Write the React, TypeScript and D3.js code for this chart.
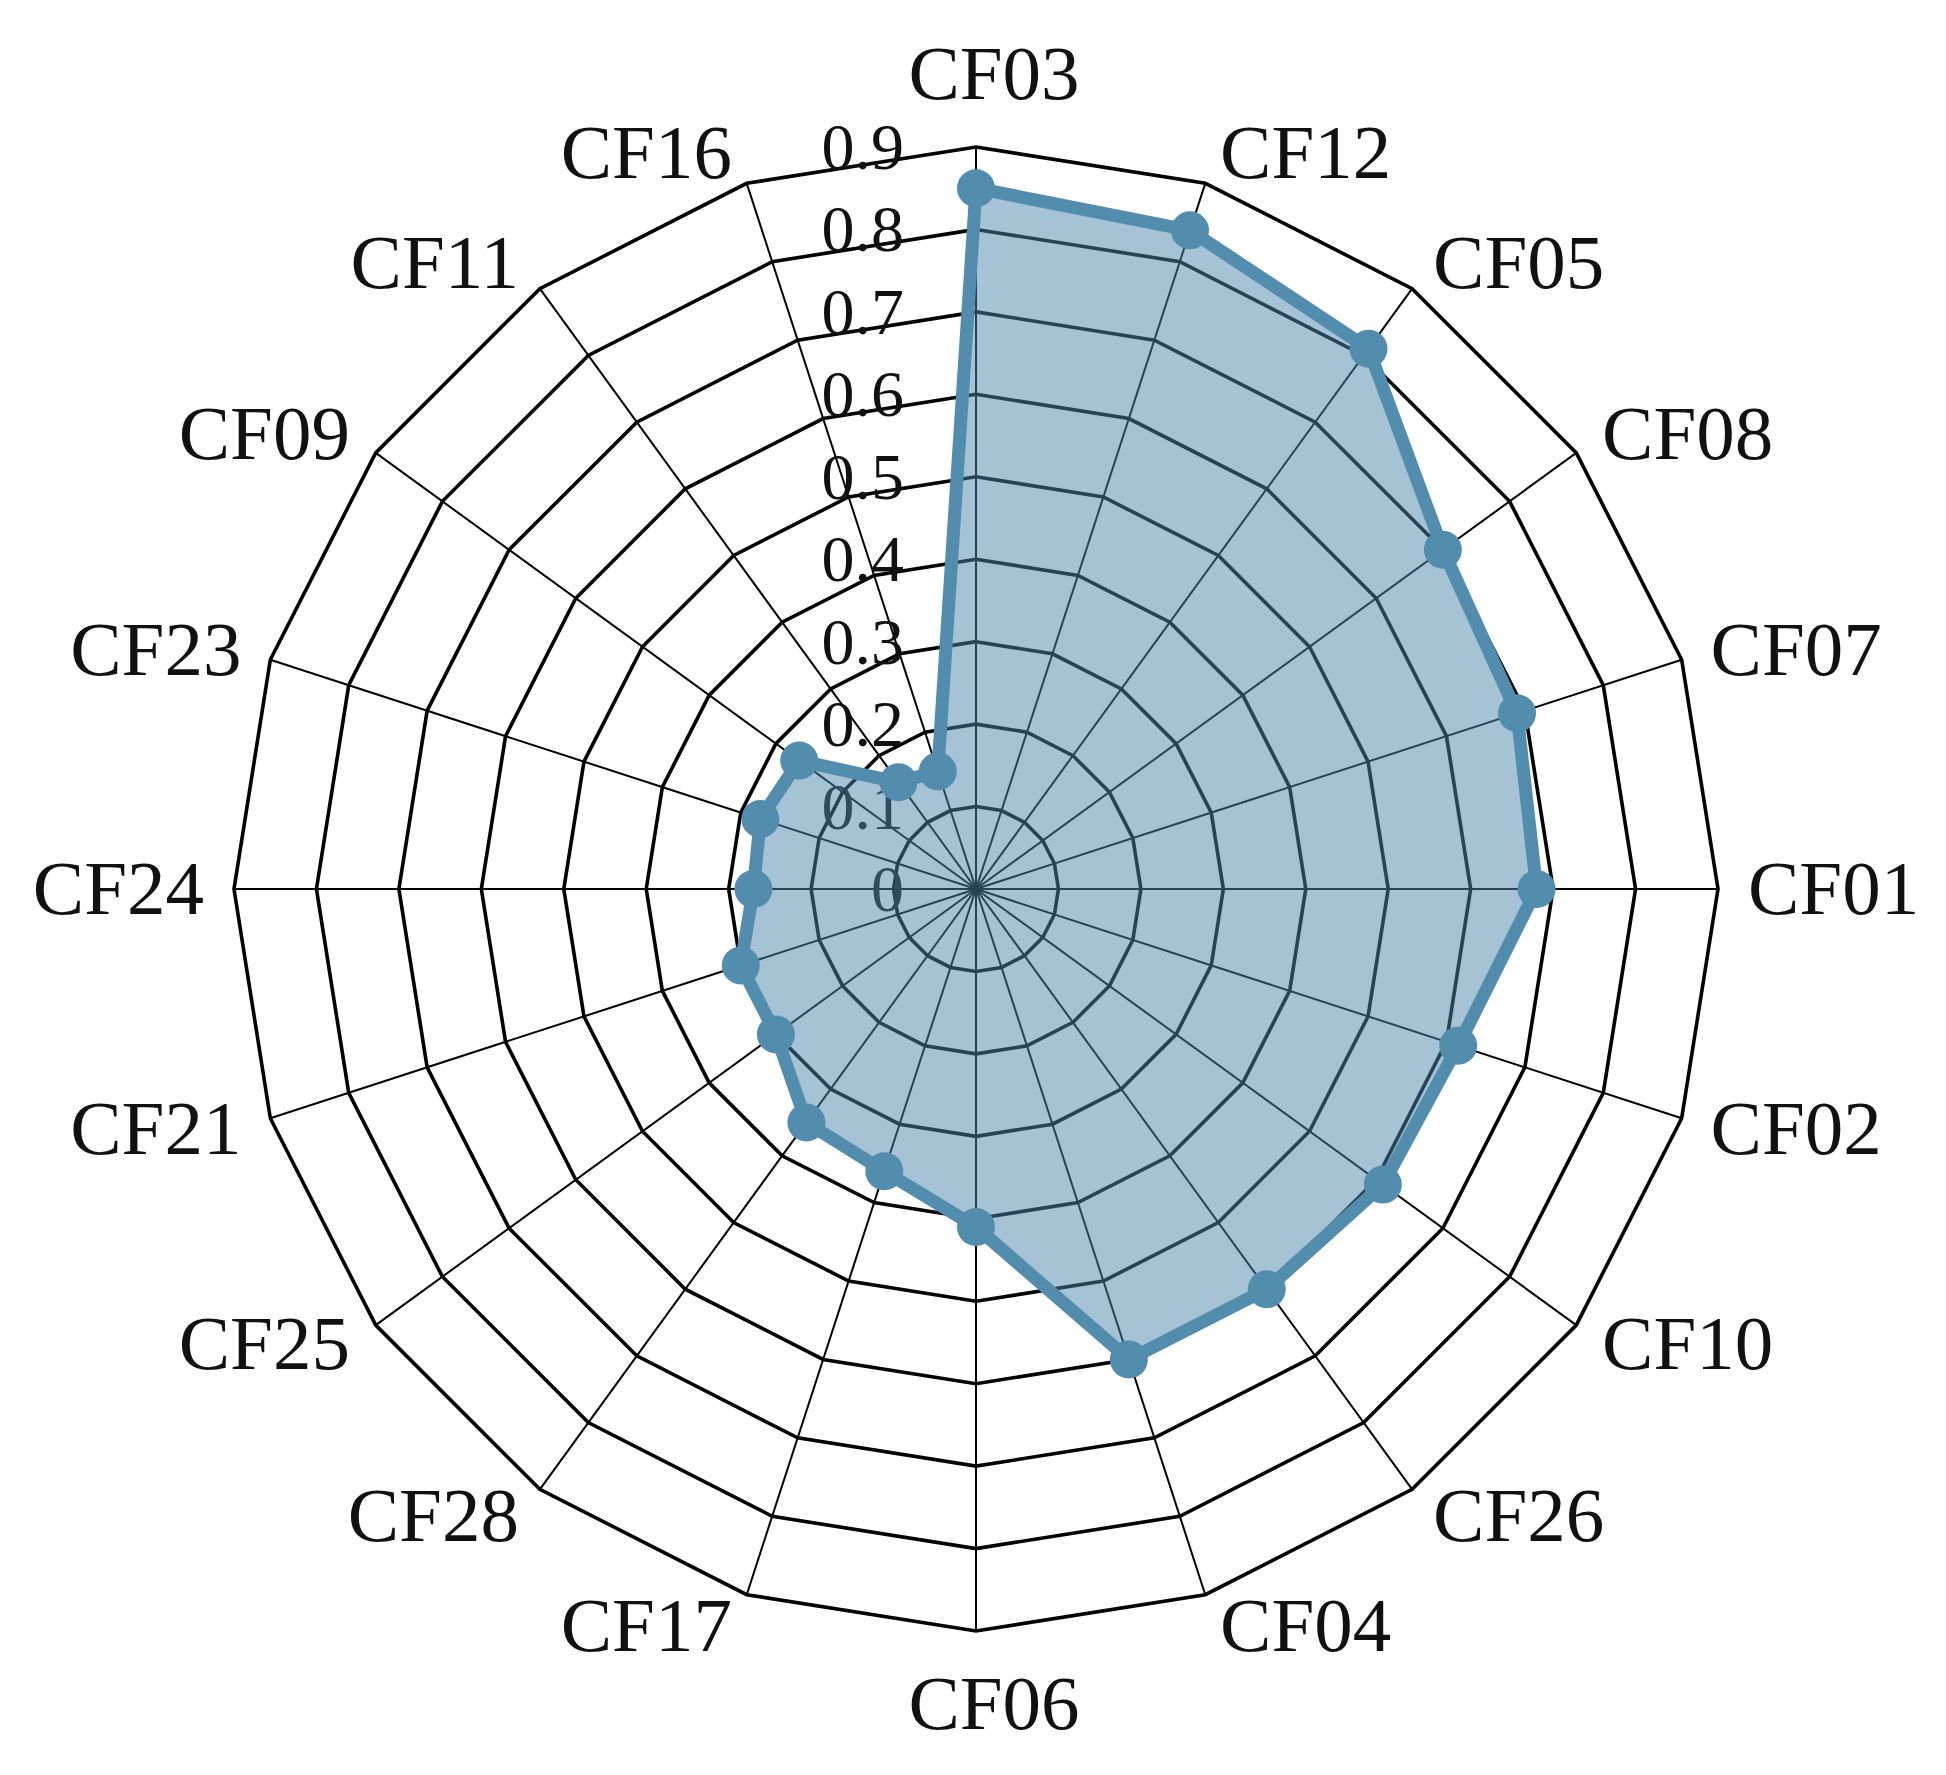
import React from "react";
import * as d3 from "d3";

const categories = ["CF03", "CF12", "CF05", "CF08", "CF07", "CF01", "CF02", "CF10", "CF26", "CF04",
  "CF06", "CF17", "CF28", "CF25", "CF21", "CF24", "CF23", "CF09", "CF11", "CF16"];
const values = [0.85, 0.84, 0.81, 0.70, 0.69, 0.68, 0.615, 0.61, 0.60, 0.60,
  0.41, 0.36, 0.35, 0.30, 0.30, 0.27, 0.275, 0.265, 0.16, 0.15];
const ticks = [0, 0.1, 0.2, 0.3, 0.4, 0.5, 0.6, 0.7, 0.8, 0.9];
const tickLabels = ["0", "0.1", "0.2", "0.3", "0.4", "0.5", "0.6", "0.7", "0.8", "0.9"];

const W = 1946, H = 1775;
const cx = 976, cy = 889;
const font = "'Liberation Serif', 'Times New Roman', serif";

export default function App() {
  const r = d3.scaleLinear().domain([0, 0.9]).range([0, 742]);
  const n = categories.length;
  const ang = (i: number) => (i * 2 * Math.PI) / n;
  const pt = (i: number, v: number): [number, number] => [
    cx + r(v) * Math.sin(ang(i)),
    cy - r(v) * Math.cos(ang(i)),
  ];

  const ringPath = (v: number) =>
    d3.line()(d3.range(n).map(i => pt(i, v))) + "Z";

  const radial = d3.lineRadial<number>()
    .angle((d, i) => ang(i))
    .radius(d => r(d))
    .curve(d3.curveLinearClosed);

  return (
    <svg width={W} height={H} style={{ position: "absolute", left: 0, top: 0, background: "#fff" }}>
      {/* spokes */}
      {categories.map((c, i) => {
        const [x, y] = pt(i, 0.9);
        return <line key={"s" + c} x1={cx} y1={cy} x2={x} y2={y} stroke="#000" strokeWidth={2} />;
      })}
      {/* rings */}
      {ticks.slice(1).map(t => (
        <path key={"r" + t} d={ringPath(t)} fill="none" stroke="#000" strokeWidth={3.6} strokeLinejoin="miter" />
      ))}
      {/* tick labels */}
      {ticks.map((t, i) => (
        <text key={"t" + t} x={cx - 72} y={cy - r(t) + 22} textAnchor="end"
          fontFamily={font} fontSize={66} fill="#111">{tickLabels[i]}</text>
      ))}
      {/* series */}
      <g transform={`translate(${cx},${cy})`}>
        <path d={radial(values) || ""} fill="rgba(78,136,172,0.5)" stroke="#538dae" strokeWidth={13} strokeLinejoin="round" />
      </g>
      {values.map((v, i) => {
        const [x, y] = pt(i, v);
        return <circle key={"m" + i} cx={x} cy={y} r={19} fill="#538dae" />;
      })}
      {/* category labels */}
      {categories.map((c, i) => {
        const a = ang(i);
        const s = Math.sin(a), co = Math.cos(a);
        const [vx, vy] = pt(i, 0.9);
        const fs = 77;
        let x = vx, anchor = "middle", yc = vy;
        if (Math.abs(s) < 0.01) {
          x = vx + 18;
          yc = vy - Math.sign(co) * 73;
        } else {
          const gx = 8 + 22 * Math.abs(s);
          x = s > 0 ? vx + gx : vx - gx;
          anchor = s > 0 ? "start" : "end";
          yc = vy - co * 32;
        }
        return (
          <text key={"c" + c} x={x} y={yc + fs * 0.33} textAnchor={anchor}
            fontFamily={font} fontSize={fs} fill="#111">{c}</text>
        );
      })}
    </svg>
  );
}
